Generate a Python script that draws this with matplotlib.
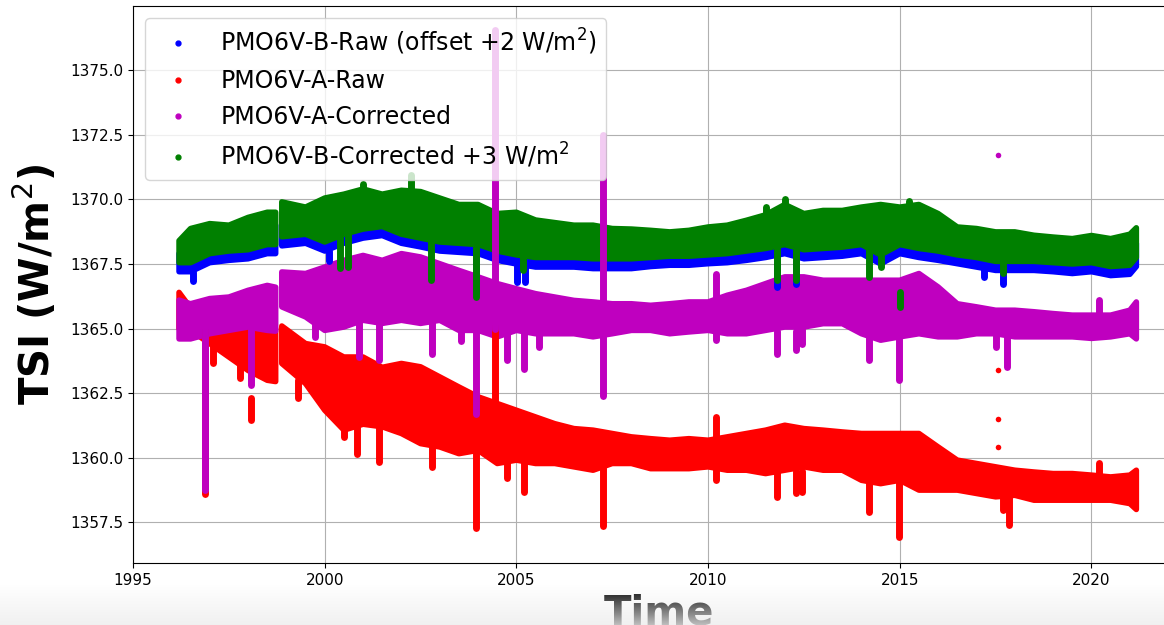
import numpy as np
import matplotlib
matplotlib.use("Agg")
import matplotlib.pyplot as plt
from matplotlib.lines import Line2D

nan = np.nan

# time grid (decimal year) for the band envelopes, NaN = data gap
t = [1996.2, 1996.5, 1997.0, 1997.5, 1998.0, 1998.5, 1998.72, nan, 1998.88, 1999.5,
     2000.0, 2000.5, 2001.0, 2001.5, 2002.0, 2002.5, 2003.0, 2003.5, 2004.0, 2004.5,
     2005.0, 2005.5, 2006.0, 2006.5, 2007.0, 2007.5, 2008.0, 2008.5, 2009.0, 2009.5,
     2010.0, 2010.5, 2011.0, 2011.5, 2012.0, 2012.5, 2013.0, 2013.5, 2014.0, 2014.5,
     2015.0, 2015.5, 2016.0, 2016.5, 2017.0, 2017.5, 2018.0, 2018.5, 2019.0, 2019.5,
     2020.0, 2020.5, 2021.0, 2021.17]

# PMO6V-B-Raw (offset +2)
b_raw_lo = [1367.2, 1367.2, 1367.55, 1367.64, 1367.7, 1367.9, 1367.9, nan, 1368.2, 1368.3,
            1368.0, 1368.3, 1368.5, 1368.6, 1368.3, 1368.16, 1368.0, 1367.95, 1367.9, 1367.64,
            1367.5, 1367.38, 1367.38, 1367.38, 1367.32, 1367.32, 1367.32, 1367.4, 1367.45, 1367.45,
            1367.51, 1367.55, 1367.64, 1367.75, 1367.9, 1367.7, 1367.75, 1367.8, 1367.9, 1367.5,
            1367.9, 1367.75, 1367.64, 1367.51, 1367.38, 1367.25, 1367.25, 1367.25, 1367.2, 1367.13,
            1367.2, 1367.05, 1367.1, 1367.4]
b_raw_hi = [1367.9, 1368.3, 1368.5, 1368.5, 1368.8, 1369.0, 1369.0, nan, 1369.4, 1369.2,
            1369.5, 1369.7, 1369.9, 1369.7, 1369.8, 1369.8, 1369.5, 1369.3, 1369.3, 1368.9,
            1368.9, 1368.7, 1368.6, 1368.5, 1368.5, 1368.4, 1368.3, 1368.3, 1368.2, 1368.3,
            1368.4, 1368.5, 1368.7, 1368.9, 1369.2, 1368.9, 1369.0, 1369.0, 1369.1, 1369.2,
            1369.1, 1369.2, 1368.9, 1368.4, 1368.3, 1368.2, 1368.2, 1368.1, 1368.0, 1368.0,
            1368.1, 1368.0, 1368.1, 1368.3]
b_raw_spk_t = [1996.56, 2000.1, 2003.95, 2005.02, 2005.22, 2011.8, 2012.3, 2017.2, 2017.7]
b_raw_spk_top = [1367.2, 1368.0, 1368.0, 1367.5, 1367.5, 1367.6, 1367.6, 1367.3, 1367.3]
b_raw_spk_bot = [1366.83, 1367.6, 1366.4, 1366.8, 1366.8, 1366.6, 1366.73, 1367.0, 1366.74]

# PMO6V-A-Raw
a_raw_lo = [1365.0, 1364.93, 1364.42, 1363.9, 1363.38, 1363.0, 1362.95, nan, 1363.65, 1362.87,
            1361.84, 1361.07, 1361.3, 1361.2, 1360.94, 1360.55, 1360.42, 1360.16, 1360.29, 1359.78,
            1359.91, 1359.78, 1359.78, 1359.65, 1359.52, 1359.78, 1359.78, 1359.58, 1359.58, 1359.58,
            1359.65, 1359.52, 1359.52, 1359.39, 1359.52, 1359.65, 1359.52, 1359.52, 1359.13, 1359.0,
            1359.13, 1358.75, 1358.75, 1358.75, 1358.62, 1358.49, 1358.55, 1358.36, 1358.36, 1358.36,
            1358.36, 1358.36, 1358.23, 1358.0]
a_raw_hi = [1366.4, 1365.8, 1365.5, 1365.3, 1365.2, 1365.0, 1365.0, nan, 1365.1, 1364.42,
            1364.29, 1363.9, 1363.9, 1363.5, 1363.65, 1363.52, 1363.13, 1362.74, 1362.36, 1362.1,
            1361.84, 1361.58, 1361.32, 1361.13, 1361.07, 1360.94, 1360.81, 1360.74, 1360.68, 1360.74,
            1360.68, 1360.81, 1360.94, 1361.07, 1361.26, 1361.13, 1361.07, 1361.0, 1360.94, 1360.94,
            1360.94, 1360.94, 1360.42, 1359.91, 1359.78, 1359.65, 1359.52, 1359.45, 1359.39, 1359.39,
            1359.33, 1359.26, 1359.33, 1359.52]
a_raw_spk_t = [1996.87, 1997.09, 1997.8, 1998.07, 1999.3, 2000.5, 2000.85, 2001.42, 2002.81,
               2003.95, 2004.43, 2004.75, 2005.2, 2007.26, 2010.2, 2011.8, 2012.3, 2012.45,
               2014.2, 2014.97, 2017.7, 2017.85, 2020.2]
a_raw_spk_top = [1364.9, 1364.4, 1363.6, 1362.3, 1363.0, 1361.2, 1361.2, 1361.2, 1360.6,
                 1360.3, 1365.06, 1359.9, 1359.9, 1359.6, 1361.58, 1359.5, 1359.5, 1359.5,
                 1359.2, 1359.1, 1358.5, 1358.5, 1359.78]
a_raw_spk_bot = [1358.6, 1363.65, 1363.1, 1361.46, 1362.3, 1360.8, 1360.16, 1359.84, 1359.65,
                 1357.27, 1362.0, 1359.2, 1358.68, 1357.37, 1359.13, 1358.49, 1358.62, 1358.68,
                 1357.91, 1356.94, 1357.97, 1357.4, 1359.3]
a_raw_out_t = [2017.55, 2017.55, 2017.55]
a_raw_out_v = [1363.39, 1361.52, 1360.42]

# PMO6V-A-Corrected
a_cor_lo = [1364.6, 1364.6, 1364.8, 1364.93, 1365.06, 1364.93, 1364.9, nan, 1365.84, 1365.45,
            1364.93, 1365.06, 1365.32, 1365.2, 1365.32, 1365.2, 1365.32, 1364.93, 1364.93, 1364.68,
            1364.93, 1364.8, 1364.8, 1364.8, 1364.68, 1364.8, 1364.93, 1364.93, 1364.8, 1364.87,
            1364.93, 1364.8, 1364.8, 1364.93, 1365.06, 1365.06, 1365.19, 1365.19, 1364.8, 1364.55,
            1364.68, 1364.8, 1364.68, 1364.68, 1364.8, 1364.8, 1364.68, 1364.68, 1364.68, 1364.68,
            1364.62, 1364.68, 1364.8, 1364.6]
a_cor_hi = [1366.1, 1365.96, 1366.16, 1366.22, 1366.48, 1366.67, 1366.6, nan, 1367.19, 1367.13,
            1367.38, 1367.64, 1367.83, 1367.64, 1367.9, 1367.77, 1367.51, 1367.25, 1367.0, 1366.74,
            1366.54, 1366.35, 1366.22, 1366.09, 1366.03, 1365.96, 1365.96, 1365.9, 1365.96, 1366.03,
            1366.03, 1366.29, 1366.48, 1366.74, 1367.0, 1367.0, 1366.87, 1366.87, 1366.87, 1366.87,
            1366.87, 1367.13, 1366.61, 1365.96, 1365.84, 1365.71, 1365.71, 1365.65, 1365.58, 1365.52,
            1365.52, 1365.52, 1365.71, 1366.03]
a_cor_spk_t = [1996.87, 1998.07, 1999.75, 2000.9, 2001.42, 2002.81, 2003.55, 2003.95, 2004.43,
               2004.75, 2005.2, 2005.6, 2007.26, 2010.2, 2011.8, 2012.3, 2012.45, 2014.2,
               2014.97, 2017.5, 2017.8, 2020.2]
a_cor_spk_top = [1365.0, 1365.0, 1365.5, 1365.3, 1365.3, 1365.2, 1365.0, 1365.0, 1376.55,
                 1364.8, 1364.9, 1364.8, 1372.48, 1367.13, 1364.9, 1364.9, 1365.0, 1364.8,
                 1364.6, 1364.8, 1364.8, 1366.09]
a_cor_spk_bot = [1358.75, 1362.8, 1364.68, 1363.9, 1363.78, 1364.03, 1364.5, 1361.71, 1365.0,
                 1363.78, 1363.45, 1364.29, 1362.4, 1364.55, 1364.03, 1364.16, 1364.42, 1363.78,
                 1363.0, 1364.29, 1363.52, 1365.5]
a_cor_out_t = [2017.55]
a_cor_out_v = [1371.71]

# PMO6V-B-Corrected +3
b_cor_lo = [1367.55, 1367.55, 1367.9, 1368.0, 1368.05, 1368.25, 1368.25, nan, 1368.55, 1368.65,
            1368.35, 1368.65, 1368.85, 1368.95, 1368.65, 1368.5, 1368.35, 1368.3, 1368.25, 1368.0,
            1367.85, 1367.75, 1367.75, 1367.75, 1367.7, 1367.7, 1367.7, 1367.75, 1367.8, 1367.8,
            1367.85, 1367.9, 1368.0, 1368.1, 1368.25, 1368.05, 1368.1, 1368.15, 1368.25, 1367.85,
            1368.25, 1368.1, 1368.0, 1367.85, 1367.75, 1367.6, 1367.6, 1367.6, 1367.55, 1367.5,
            1367.55, 1367.4, 1367.45, 1367.75]
b_cor_hi = [1368.4, 1368.87, 1369.06, 1369.0, 1369.3, 1369.5, 1369.5, nan, 1369.9, 1369.7,
            1370.05, 1370.2, 1370.4, 1370.2, 1370.35, 1370.3, 1370.05, 1369.8, 1369.8, 1369.45,
            1369.5, 1369.2, 1369.1, 1369.0, 1369.0, 1368.87, 1368.85, 1368.8, 1368.74, 1368.8,
            1368.93, 1369.0, 1369.19, 1369.4, 1369.8, 1369.45, 1369.57, 1369.57, 1369.7, 1369.8,
            1369.7, 1369.8, 1369.45, 1368.93, 1368.87, 1368.74, 1368.74, 1368.61, 1368.54, 1368.48,
            1368.6, 1368.48, 1368.65, 1368.9]
b_cor_spk_t = [2000.4, 2000.6, 2001.0, 2002.25, 2002.78, 2003.95, 2005.17, 2011.5, 2011.8,
               2012.0, 2012.3, 2014.2, 2014.5, 2015.0, 2015.25, 2017.7]
b_cor_spk_top = [1368.7, 1368.7, 1370.6, 1370.93, 1368.5, 1368.3, 1367.9, 1369.7, 1368.2,
                 1370.03, 1368.2, 1368.3, 1368.0, 1366.42, 1369.95, 1367.7]
b_cor_spk_bot = [1367.35, 1367.4, 1370.0, 1370.2, 1366.87, 1366.22, 1367.25, 1369.2, 1366.87,
                 1369.6, 1366.87, 1367.0, 1367.4, 1365.84, 1369.6, 1367.15]

labels = ["PMO6V-B-Raw (offset +2 W/m$^2$)", "PMO6V-A-Raw",
          "PMO6V-A-Corrected", "PMO6V-B-Corrected +3 W/m$^2$"]
colors = ["b", "r", "m", "g"]

series = [
    (b_raw_lo, b_raw_hi, b_raw_spk_t, b_raw_spk_top, b_raw_spk_bot, [], []),
    (a_raw_lo, a_raw_hi, a_raw_spk_t, a_raw_spk_top, a_raw_spk_bot, a_raw_out_t, a_raw_out_v),
    (a_cor_lo, a_cor_hi, a_cor_spk_t, a_cor_spk_top, a_cor_spk_bot, a_cor_out_t, a_cor_out_v),
    (b_cor_lo, b_cor_hi, b_cor_spk_t, b_cor_spk_top, b_cor_spk_bot, [], []),
]

fig = plt.figure(figsize=(11.64, 6.25), dpi=100)
ax = fig.add_axes([0.1143, 0.0992, 0.9041, 0.8912])

for (lo, hi, st, stop, sbot, ot, ov), c in zip(series, colors):
    ax.fill_between(t, lo, hi, color=c, lw=4, joinstyle="round")
    vl = ax.vlines(st, sbot, stop, color=c, lw=5)
    vl.set_capstyle("round")
    if ot:
        ax.plot(ot, ov, "o", color=c, ms=4, mec="none")

ax.set_xlim(1995.0, 2022.45)
ax.set_ylim(1355.93, 1377.48)
ax.grid(True)
ax.set_axisbelow(True)
ax.tick_params(labelsize=11)
ax.set_ylabel("TSI (W/m$^2$)", fontsize=29, fontweight="bold", labelpad=8)
ax.set_xlabel("Time", fontsize=29, fontweight="bold", labelpad=4)

handles = [Line2D([], [], ls="", marker=".", color=c, ms=7) for c in colors]
ax.legend(handles, labels, loc="upper left", fontsize=17, numpoints=1)

# faded strip along the bottom edge of the screenshot
fade = fig.add_axes([0, 0, 1, 0.065])
grad = np.zeros((50, 2, 4))
grad[..., :3] = 0.93
grad[..., 3] = np.linspace(0.8, 0.0, 50)[:, None]
fade.imshow(grad, aspect="auto", origin="lower", extent=[0, 1, 0, 1])
fade.axis("off")

fig.savefig("out.png", dpi=100)
